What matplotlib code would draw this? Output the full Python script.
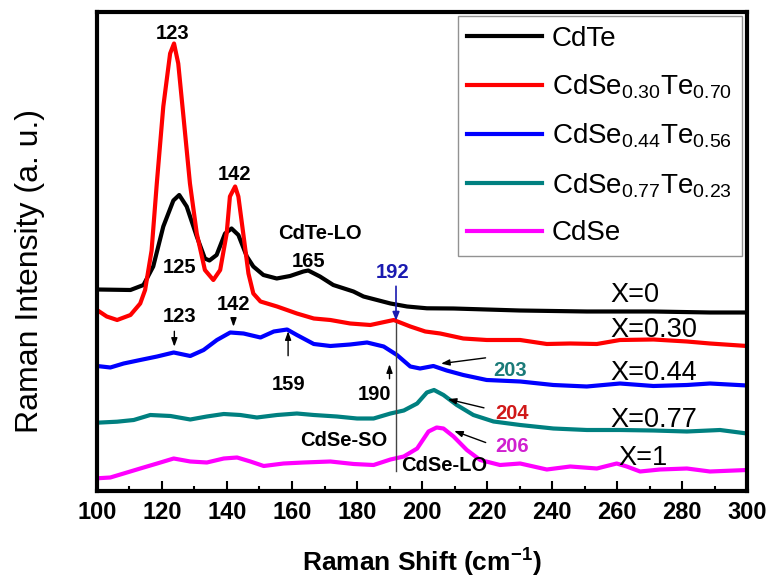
import matplotlib
matplotlib.use("Agg")
import matplotlib.pyplot as plt
from matplotlib.ticker import MultipleLocator

plt.rcParams['font.family'] = ['Liberation Sans', 'DejaVu Sans']
plt.rcParams['mathtext.default'] = 'regular'

# Raman spectra (intensity in arbitrary, offset units)
cdte_x = [100, 110.3, 114.3, 117.3, 120.4, 123.5, 125.3, 127.6, 130.7, 133.2, 134.6, 136.8, 139.4, 141.4,
          143.5, 146.1, 148.1, 151.2, 155.3, 159.4, 163.5, 165, 168.6, 172.7, 178.9, 182, 190.3, 195.4,
          201.5, 209.7, 230, 250.7, 271.2, 288.6, 300]
cdte_y = [202, 201.5, 206.5, 225, 265, 291, 296.5, 285, 255, 233, 231, 236.5, 258, 263,
          256.5, 235, 225, 216.5, 213, 215.5, 220, 221, 215, 206.5, 200, 195, 188, 185,
          183.2, 183, 181, 180, 180, 179, 179]

x030_x = [100, 103, 106.2, 110.3, 113.3, 114.8, 116.8, 118.4, 120.4, 122.5, 123.7, 125, 126.6, 128.6,
          130.7, 133.2, 135.8, 137.9, 139.9, 140.9, 142.5, 143.5, 145, 146.6, 148.1, 150.3, 155.4,
          161.5, 166.7, 171.8, 177.9, 184.1, 191.3, 196.4, 201, 205.6, 212.7, 219.9, 230.2, 238.4,
          245.6, 253.8, 260.9, 271.2, 281.5, 288.6, 300]
x030_y = [181.5, 175, 171.5, 176.5, 188, 201.5, 241, 308, 385, 438, 448, 428, 375, 308,
          258, 221.5, 211.5, 221.5, 258, 295, 305, 295, 258, 218, 198, 190, 185,
          178, 173, 171.5, 168, 166.5, 171.5, 165, 160, 158, 153, 151.5, 151.5, 147.5,
          148, 147.5, 151.5, 152, 150, 148, 145.5]

x044_x = [100, 104.1, 108.2, 113.3, 118.5, 123.6, 128.7, 132.8, 136.9, 141, 145.1, 150.3, 154.4,
          158.5, 161.5, 166.7, 171.8, 177.9, 183.1, 188.2, 192.3, 196.4, 199.4, 203.5, 207.6,
          212.7, 219.9, 230.2, 240.4, 250.7, 260.9, 271.2, 281.5, 288.6, 300]
x044_y = [125.5, 124, 128, 131.5, 135, 139, 135.5, 141.5, 151.5, 159, 158, 154, 160,
          162, 156.5, 147.5, 145.5, 147, 149, 145, 136.5, 125, 123, 125.5, 121,
          116.5, 111.5, 110, 106.5, 105, 108, 105.5, 106.5, 108, 106]

x077_x = [100, 106.2, 111.3, 116.4, 122.6, 128.7, 133.8, 139, 144.1, 149.2, 155.4, 161.5, 166.7,
          173.8, 180, 185.1, 190.3, 194.4, 198.5, 201.5, 203.7, 206.6, 210.7, 215.8, 222, 230.2,
          240.4, 250.7, 260.9, 271.2, 281.5, 291.7, 300]
x077_y = [68.8, 69.8, 71.5, 76.5, 75.5, 72, 75, 77.5, 76.5, 74, 76.5, 78, 76.5,
          75, 73, 73, 78, 81, 88, 99, 101.5, 96.5, 86.5, 76.5, 70, 66.5,
          63, 61.5, 61.5, 61, 60, 61.5, 58]

cdse_x = [100, 104.1, 108.2, 113.3, 118.5, 123.6, 128.7, 133.8, 139, 143.1, 147.2, 151.3, 157.4,
          163.6, 171.8, 179, 185.1, 190.3, 194.4, 198.5, 202, 204.5, 206.6, 209.7, 213.8, 217.9,
          224, 230.2, 238.4, 245.6, 253.8, 259.9, 263, 267.1, 273.2, 281.5, 288.6, 300]
cdse_y = [13.2, 14, 18, 23, 28, 33, 30, 29, 33, 34, 30, 25.5, 28,
          29, 30, 27.5, 26.5, 32, 35, 43, 60, 64, 63, 55, 41.5, 31.5,
          26.5, 28, 22, 25, 23, 28, 25, 20, 22, 23, 20, 21.5]

labels = ["CdTe", r"CdSe$_{0.30}$Te$_{0.70}$", r"CdSe$_{0.44}$Te$_{0.56}$",
          r"CdSe$_{0.77}$Te$_{0.23}$", "CdSe"]
colors = ["black", "#ff0000", "#0000ff", "#008080", "#ff00ff"]
comp_labels = ["X=0", "X=0.30", "X=0.44", "X=0.77", "X=1"]
comp_pos = [(257.9, 196.5), (257.9, 161.5), (257.9, 118), (257.9, 71.5), (260.4, 33)]

fig = plt.figure(figsize=(7.71, 5.82), dpi=100)
ax = fig.add_axes([0.1258, 0.1555, 0.8431, 0.8239])

series = [(cdte_x, cdte_y), (x030_x, x030_y), (x044_x, x044_y), (x077_x, x077_y), (cdse_x, cdse_y)]
for (xs, ys), c, lab in zip(series, colors, labels):
    ax.plot(xs, ys, color=c, lw=3, label=lab, solid_joinstyle='round')

ax.set_xlim(100, 300)
ax.set_ylim(0, 479.5)

# composition labels
for t, (xx, yy) in zip(comp_labels, comp_pos):
    ax.text(xx, yy, t, fontsize=19.5, ha='left', va='center')

# peak annotations
ann = dict(fontsize=14.5, fontweight='bold', ha='center', va='center')
ax.text(123.4, 458, "123", **ann)
ax.text(142.2, 316.5, "142", **ann)
ax.text(125.3, 223.5, "125", **ann)
ax.text(168.6, 258, "CdTe-LO", **ann)
ax.text(165, 229.5, "165", **ann)
ax.text(125.4, 174.8, "123", **ann)
ax.text(142, 187, "142", **ann)
ax.text(159, 106.5, "159", **ann)
ax.text(185.3, 97, "190", **ann)
ax.text(175.9, 50.5, "CdSe-SO", **ann)
ax.text(206.8, 25.5, "CdSe-LO", **ann)
ax.text(190.8, 219, "192", color="#1a1ab0", **ann)
ax.text(227.1, 120.8, "203", color="#1a7a78", **ann)
ax.text(227.6, 77.5, "204", color="#d01818", **ann)
ax.text(227.6, 44.8, "206", color="#d020d0", **ann)

arw = dict(arrowstyle='-|>,head_length=0.5,head_width=0.18', color='black', lw=1)
ax.annotate("", xy=(123.8, 142), xytext=(123.8, 163), arrowprops=arw)
ax.annotate("", xy=(142, 162), xytext=(142, 176.5), arrowprops=arw)
ax.annotate("", xy=(158.8, 163), xytext=(158.8, 133), arrowprops=arw)
ax.annotate("", xy=(190, 130), xytext=(190, 110), arrowprops=arw)
ax.annotate("", xy=(205, 127.5), xytext=(220.4, 134), arrowprops=arw)
ax.annotate("", xy=(207.1, 93), xytext=(219.9, 83), arrowprops=arw)
ax.annotate("", xy=(209.1, 61.5), xytext=(220.4, 48), arrowprops=arw)
# vertical marker at 192
ax.plot([192, 192], [168, 20], color="#444444", lw=1)
ax.annotate("", xy=(192, 168), xytext=(192, 208),
            arrowprops=dict(arrowstyle='-|>,head_length=0.5,head_width=0.2', color='#1a1ab0', lw=1.2))

leg = ax.legend(loc='upper right', bbox_to_anchor=(0.992, 0.992), borderaxespad=0,
                fontsize=20, frameon=True, fancybox=False, handlelength=2.7,
                handletextpad=0.35, labelspacing=0.75, borderpad=0.35)
leg.get_frame().set_edgecolor('#777777')
leg.get_frame().set_linewidth(1)

for s in ax.spines.values():
    s.set_linewidth(3)
ax.set_yticks([])
ax.xaxis.set_major_locator(MultipleLocator(20))
ax.xaxis.set_minor_locator(MultipleLocator(10))
ax.tick_params(axis='x', which='major', direction='in', length=7, width=1.5, pad=7,
               labelsize=17, top=False)
ax.tick_params(axis='x', which='minor', direction='in', length=3.5, width=1.5, top=False)
for lab in ax.get_xticklabels():
    lab.set_fontweight('bold')

ax.set_xlabel(r"Raman Shift (cm$^{-1}$)", fontsize=19, fontweight='bold', labelpad=16)
ax.set_ylabel("Raman Intensity (a. u.)", fontsize=23)
ax.yaxis.set_label_coords(-0.08, 0.46)

fig.savefig("out.png", dpi=100)
